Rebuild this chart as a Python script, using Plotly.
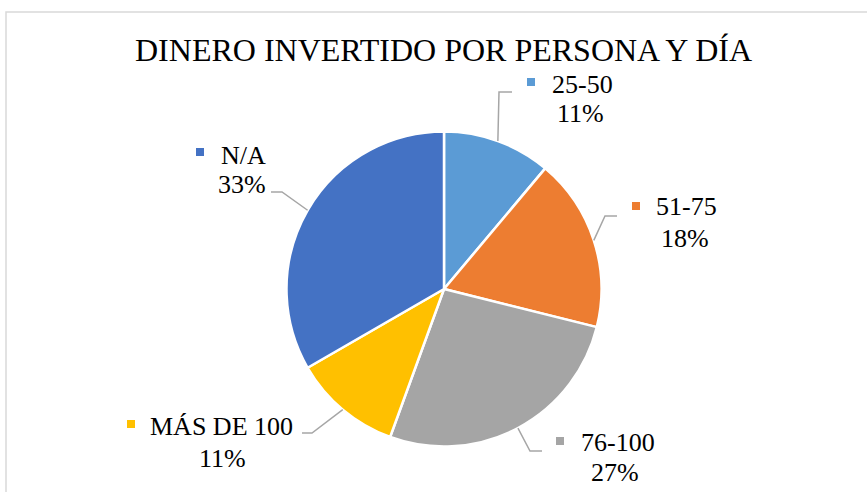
import math
import plotly.graph_objects as go

# ---- data ----
categories = ["25-50", "51-75", "76-100", "MÁS DE 100", "N/A"]
counts = [5, 8, 12, 5, 15]
colors = ["#5B9BD5", "#ED7D31", "#A5A5A5", "#FFC000", "#4472C4"]
title_text = "DINERO INVERTIDO POR PERSONA Y DÍA"

# ---- layout (pixels) ----
W, H = 867, 492
CX, CY, R = 444, 289, 157.5
FONT = "Liberation Serif"

# label layout per slice: (square center, name center, pct center, elbow, end)
label_layout = [
    dict(sq=(531, 82), name=(582, 84), pct=(580, 114), elbow=(499, 92), end=(512, 92)),
    dict(sq=(636, 206), name=(686, 207), pct=(685, 238), elbow=(605, 216), end=(617, 216)),
    dict(sq=(560, 441), name=(618, 442), pct=(615, 472), elbow=(530, 451), end=(542, 451)),
    dict(sq=(131, 424), name=(222, 426), pct=(223, 458), elbow=(312, 433), end=(302, 433)),
    dict(sq=(200, 152), name=(243, 155), pct=(242, 185), elbow=(282, 192), end=(271, 192)),
]


def px(x):
    return x / W


def py(y):
    return 1 - y / H


total = sum(counts)
fig = go.Figure(go.Pie(
    labels=categories,
    values=counts,
    marker=dict(colors=colors, line=dict(color="white", width=2.5)),
    sort=False,
    direction="clockwise",
    rotation=0,
    textinfo="none",
    hoverinfo="label+percent",
    showlegend=False,
    domain=dict(x=[px(CX - R), px(CX + R)], y=[py(CY + R), py(CY - R)]),
))

shapes = []
annotations = []

# chart area border
shapes.append(dict(type="rect", xref="paper", yref="paper",
                   x0=px(6), x1=px(W + 10), y0=py(H + 10), y1=py(12),
                   line=dict(color="#D9D9D9", width=1.5), fillcolor="rgba(0,0,0,0)"))

annotations.append(dict(text=title_text, x=px(443), y=py(50), xref="paper", yref="paper",
                        showarrow=False, xanchor="center", yanchor="middle",
                        font=dict(family=FONT, size=32, color="#000000")))

cum = 0
for cat, val, col, lay in zip(categories, counts, colors, label_layout):
    mid = (cum + val / 2) / total * 2 * math.pi
    cum += val
    ex = CX + R * math.sin(mid)
    ey = CY - R * math.cos(mid)
    pct = round(val / total * 100)
    # leader line
    path = "M {} {} L {} {} L {} {}".format(
        px(ex), py(ey), px(lay["elbow"][0]), py(lay["elbow"][1]),
        px(lay["end"][0]), py(lay["end"][1]))
    shapes.append(dict(type="path", xref="paper", yref="paper", path=path,
                       line=dict(color="#A6A6A6", width=1.5)))
    # legend key square
    sx, sy = lay["sq"]
    shapes.append(dict(type="rect", xref="paper", yref="paper",
                       x0=px(sx - 4), x1=px(sx + 4), y0=py(sy + 4), y1=py(sy - 4),
                       fillcolor=col, line=dict(width=0)))
    annotations.append(dict(text=cat, x=px(lay["name"][0]), y=py(lay["name"][1]),
                            xref="paper", yref="paper", showarrow=False,
                            xanchor="center", yanchor="middle",
                            font=dict(family=FONT, size=26, color="#000000")))
    annotations.append(dict(text=f"{pct}%", x=px(lay["pct"][0]), y=py(lay["pct"][1]),
                            xref="paper", yref="paper", showarrow=False,
                            xanchor="center", yanchor="middle",
                            font=dict(family=FONT, size=26, color="#000000")))

fig.update_layout(
    width=W, height=H,
    margin=dict(l=0, r=0, t=0, b=0),
    paper_bgcolor="white",
    plot_bgcolor="white",
    shapes=shapes,
    annotations=annotations,
)

fig.write_html("out.html", config={"displayModeBar": False},
               post_script="document.body.style.margin='0';document.body.style.overflow='hidden';")
